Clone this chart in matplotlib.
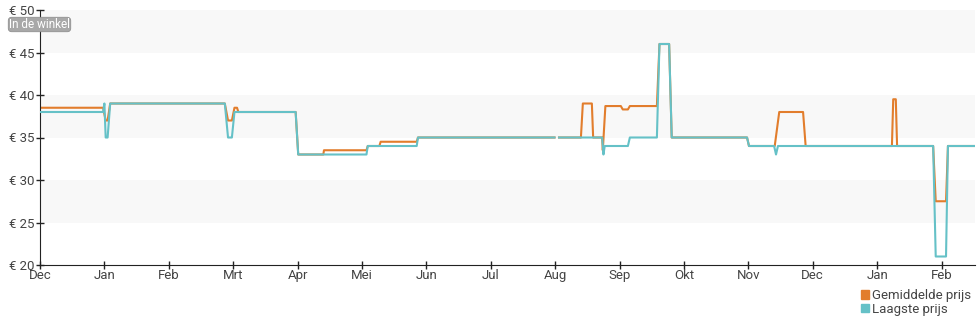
import matplotlib
matplotlib.use('Agg')
from matplotlib import pyplot as plt
from matplotlib.patches import Patch
import numpy as np

plt.rcParams['font.family'] = ['Roboto', 'DejaVu Sans']

# x position in months since the first December (0 = Dec, 1 = Jan, ...)
month_labels = ['Dec', 'Jan', 'Feb', 'Mrt', 'Apr', 'Mei', 'Jun', 'Jul',
                'Aug', 'Sep', 'Okt', 'Nov', 'Dec', 'Jan', 'Feb']

avg_x = [0.00, 0.98, 1.02, 1.05, 1.09, 2.87, 2.92, 2.98, 3.02, 3.06, 3.08,
         3.97, 4.01, 4.40, 4.41, 5.07, 5.09, 5.27, 5.29, 5.85, 5.87, 7.99,
         8.02, 8.06, 8.40, 8.43, 8.57, 8.59, 8.73, 8.74, 8.78, 9.02, 9.05,
         9.13, 9.16, 9.58, 9.62, 9.77, 9.81, 10.98, 11.01, 11.41, 11.48,
         11.85, 11.89, 13.23, 13.25, 13.29, 13.31, 13.87, 13.91, 14.07,
         14.10, 14.52]
avg_y = [38.5, 38.5, 37.0, 37.0, 39.0, 39.0, 37.0, 37.0, 38.5, 38.5, 38.0,
         38.0, 33.0, 33.0, 33.5, 33.5, 34.0, 34.0, 34.5, 34.5, 35.0, 35.0,
         np.nan, 35.0, 35.0, 39.0, 39.0, 35.0, 35.0, 33.5, 38.7, 38.7, 38.3,
         38.3, 38.7, 38.7, 46.0, 46.0, 35.0, 35.0, 34.0, 34.0, 38.0,
         38.0, 34.0, 34.0, 39.5, 39.5, 34.0, 34.0, 27.5, 27.5,
         34.0, 34.0]

low_x = [0.00, 0.98, 1.00, 1.02, 1.05, 1.09, 2.87, 2.92, 2.98, 3.02, 3.97,
         4.01, 5.07, 5.09, 5.85, 5.87, 7.99, 8.02, 8.06, 8.73, 8.75, 8.77,
         9.13, 9.16, 9.58, 9.62, 9.77, 9.81, 10.98, 11.01, 11.40, 11.43,
         11.46, 13.87, 13.91, 14.07, 14.10, 14.52]
low_y = [38.0, 38.0, 39.0, 35.0, 35.0, 39.0, 39.0, 35.0, 35.0, 38.0, 38.0,
         33.0, 33.0, 34.0, 34.0, 35.0, 35.0, np.nan, 35.0, 35.0, 33.0, 34.0,
         34.0, 35.0, 35.0, 46.0, 46.0, 35.0, 35.0, 34.0, 34.0, 33.0,
         34.0, 34.0, 21.0, 21.0, 34.0, 34.0]

orange = '#e27d2c'
teal = '#65c1c7'

fig = plt.figure(figsize=(9.8, 3.25), dpi=100)
ax = fig.add_axes([40 / 980, 60 / 325, 935 / 980, 255 / 325])

# alternating grey bands
for lo in (25, 35, 45):
    ax.axhspan(lo, lo + 5, color='#f8f8f8', zorder=0, lw=0)

ax.plot(avg_x, avg_y, color=orange, lw=1.5, zorder=2)
ax.plot(low_x, low_y, color=teal, lw=1.5, zorder=3)

ax.set_xlim(0, 14.52)
ax.set_ylim(20, 50)
ax.set_xticks(range(len(month_labels)))
ax.set_xticklabels(month_labels)
ax.set_yticks(range(20, 51, 5))
ax.set_yticklabels([f'€ {v}' for v in range(20, 51, 5)])
ax.tick_params(direction='inout', length=6, width=1, color='#222222',
               labelcolor='#444444', labelsize=9.5, pad=1)
ax.tick_params(axis='x', pad=0)

for side in ('top', 'right'):
    ax.spines[side].set_visible(False)
for side in ('left', 'bottom'):
    ax.spines[side].set_color('#222222')

fig.text(9 / 980, 1 - 24.5 / 325, 'In de winkel', color='white', fontsize=8.5,
         va='center', ha='left',
         bbox=dict(boxstyle='round,pad=0.06,rounding_size=0.3',
                   fc='#a8a8a8', ec='#909090', lw=0.6))

handles = [Patch(color=orange, label='Gemiddelde prijs'),
           Patch(color=teal, label='Laagste prijs')]
fig.legend(handles=handles, loc='lower right', bbox_to_anchor=(1.0, 0.0),
           frameon=False, fontsize=9.5, handlelength=0.6, handleheight=0.6,
           handletextpad=0.2, labelspacing=0.05, borderaxespad=0.3,
           labelcolor='#444444')

fig.savefig('out.png', dpi=100)
